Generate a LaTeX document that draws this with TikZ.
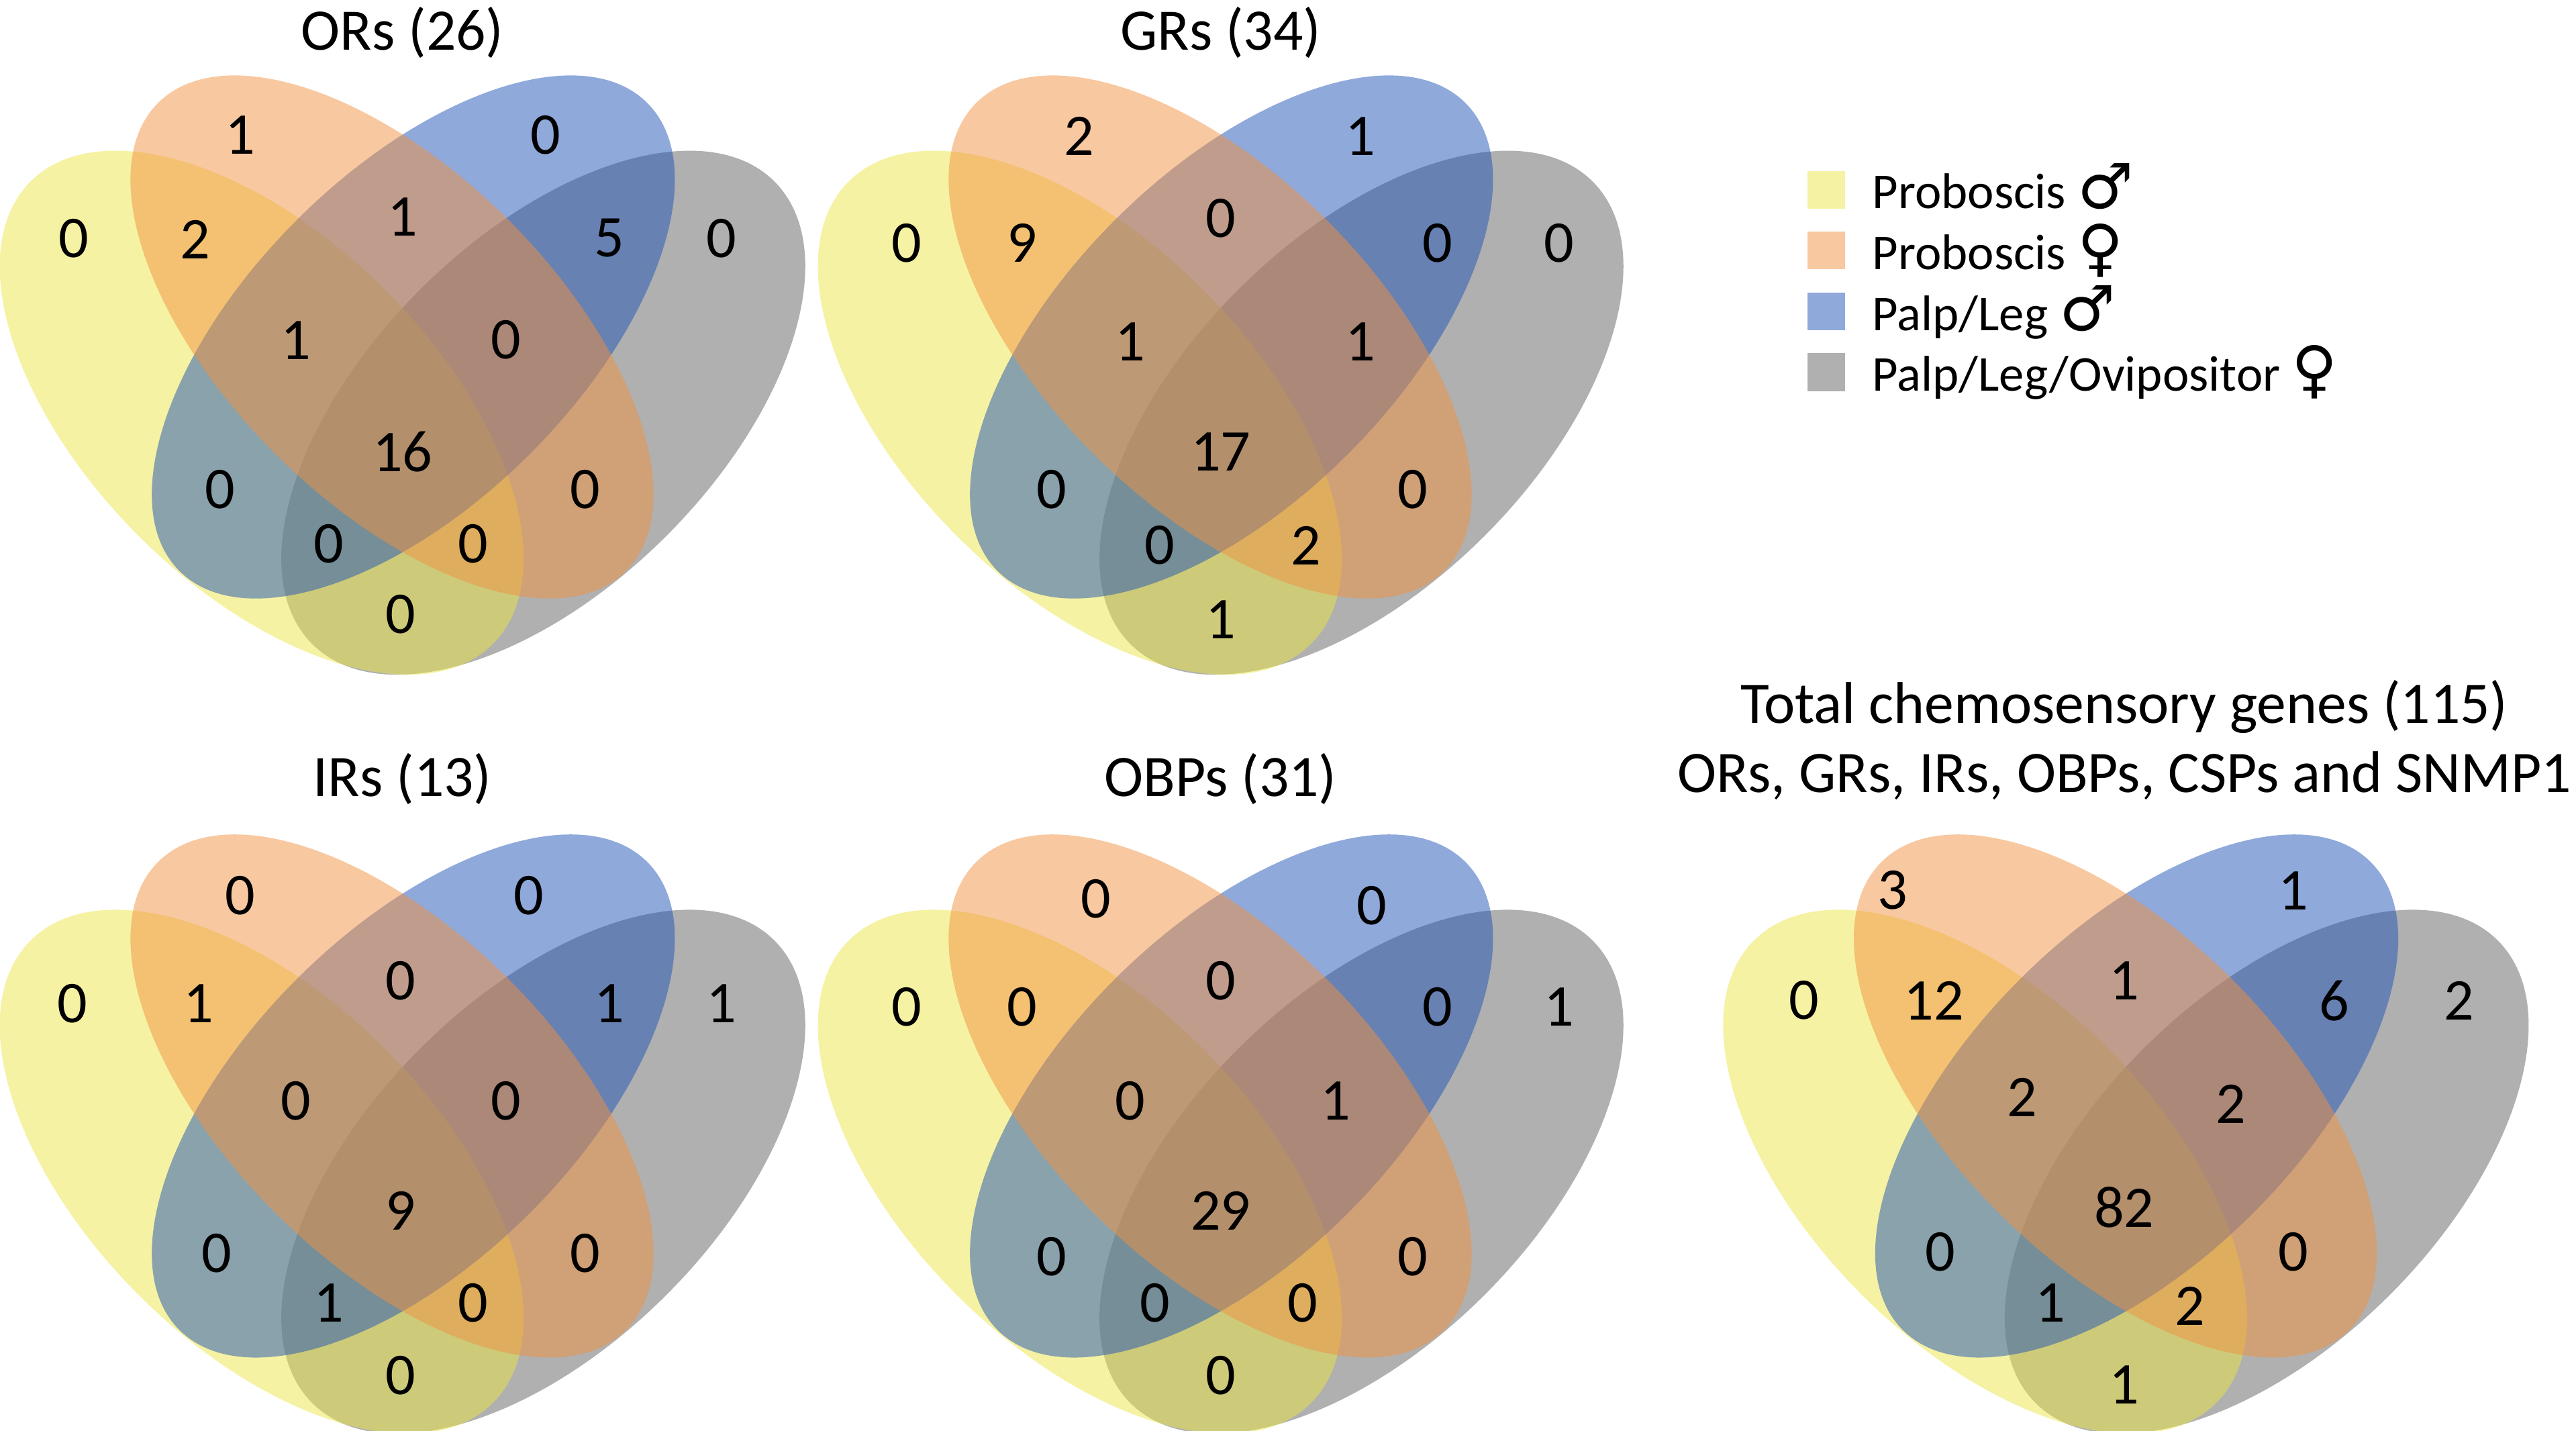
\documentclass[tikz,border=0pt]{standalone}
\usepackage{fontspec}
\setmainfont{Carlito}
\newfontfamily\symfont{DejaVu Sans}
\definecolor{cY}{RGB}{235,229,71}
\definecolor{cO}{RGB}{241,145,65}
\definecolor{cB}{RGB}{31,83,183}
\definecolor{cG}{RGB}{97,97,97}
\tikzset{
  ell/.style={fill opacity=0.5},
  num/.style={font=\fontsize{36}{40}\selectfont, inner sep=0pt},
  ttl/.style={font=\fontsize{35.8}{42}\selectfont, inner sep=0pt},
  legtxt/.style={font=\fontsize{30.5}{36}\selectfont, inner sep=0pt, anchor=base west},
  sq/.style={minimum size=23pt, inner sep=0pt, fill opacity=0.5},
}
\newcommand\sexsym[1]{{\symfont\fontsize{38}{40}\selectfont #1}}
\newcommand\drawvenn[2]{%
  \begin{scope}[shift={(#1,#2)}]
    \fill[ell, cG, rotate around={45:(330.7,251.2)}] (330.7,251.2) ellipse [x radius=199pt, y radius=106pt];
    \fill[ell, cY, rotate around={-45:(159.3,251.2)}] (159.3,251.2) ellipse [x radius=199pt, y radius=106pt];
    \fill[ell, cB, rotate around={45:(251.6,205.1)}] (251.6,205.1) ellipse [x radius=201.4pt, y radius=100.5pt];
    \fill[ell, cO, rotate around={-45:(238.6,205.1)}] (238.6,205.1) ellipse [x radius=201.4pt, y radius=100.5pt];
  \end{scope}}
\begin{document}
\begin{tikzpicture}[x=1pt, y=-1pt]
\useasboundingbox (0,0) rectangle (1568,871);
\drawvenn{0}{0}
\drawvenn{498}{0}
\drawvenn{0}{462}
\drawvenn{498}{462}
\drawvenn{1049}{462}
% titles
\node[ttl] (t1) at (245,20) {ORs (26)};
\node[ttl] (t2) at (743,20) {GRs (34)};
\node[ttl] (t3) at (245,474) {IRs (13)};
\node[ttl] (t4) at (743,474) {OBPs (31)};
\node[ttl] (t5) at (1293,430) {Total chemosensory genes (115)};
\node[ttl] (t6) at (1293,472) {ORs, GRs, IRs, OBPs, CSPs and SNMP1};
% ORs
\foreach \x/\y/\t [count=\i] in {146/82/1, 332/82/0, 45/145/0, 119/146/2, 245/132/1, 371/145/5, 439/145/0, 180/207/1, 308/207/0, 245/275/16, 134/298/0, 356/298/0, 200/331/0, 288/331/0, 244/374/0}
  \node[num] (a\i) at (\x,\y) {\t};
% GRs
\foreach \x/\y/\t [count=\i] in {657/83/2, 828/83/1, 552/148/0, 622/148/9, 743/133/0, 875/148/0, 949/148/0, 688/208/1, 828/208/1, 743/275/17, 640/298/0, 860/298/0, 706/332/0, 795/332/2, 743/377/1}
  \node[num] (b\i) at (\x,\y) {\t};
% IRs
\foreach \x/\y/\t [count=\i] in {146/545/0, 322/545/0, 44/611/0, 121/611/1, 244/597/0, 371/611/1, 439/611/1, 180/670/0, 308/670/0, 244/737/9, 132/763/0, 356/763/0, 200/793/1, 288/793/0, 244/837/0}
  \node[num] (c\i) at (\x,\y) {\t};
% OBPs
\foreach \x/\y/\t [count=\i] in {667/547/0, 835/551/0, 552/613/0, 622/613/0, 743/597/0, 875/613/0, 949/613/1, 688/670/0, 813/670/1, 743/737/29, 640/765/0, 860/765/0, 703/793/0, 793/793/0, 743/837/0}
  \node[num] (d\i) at (\x,\y) {\t};
% Total
\foreach \x/\y/\t [count=\i] in {1152/542/3, 1396/542/1, 1098/609/0, 1177/609/12, 1293/597/1, 1421/609/6, 1497/609/2, 1231/668/2, 1358/672/2, 1293/735/82, 1181/762/0, 1396/762/0, 1248/793/1, 1333/795/2, 1293/843/1}
  \node[num] (e\i) at (\x,\y) {\t};
% legend
\node[sq, fill=cY] (l1) at (1111.7,115.5) {};
\node[sq, fill=cO] (l2) at (1111.7,152.5) {};
\node[sq, fill=cB] (l3) at (1111.7,189.5) {};
\node[sq, fill=cG] (l4) at (1111.7,226.5) {};
\node[legtxt] (m1) at (1139.5,127) {Proboscis \sexsym{♂}};
\node[legtxt] (m2) at (1139.5,164) {Proboscis \sexsym{♀}};
\node[legtxt] (m3) at (1139.5,201) {Palp/Leg \sexsym{♂}};
\node[legtxt] (m4) at (1139.5,238) {Palp/Leg/Ovipositor \sexsym{♀}};
\end{tikzpicture}
\end{document}
